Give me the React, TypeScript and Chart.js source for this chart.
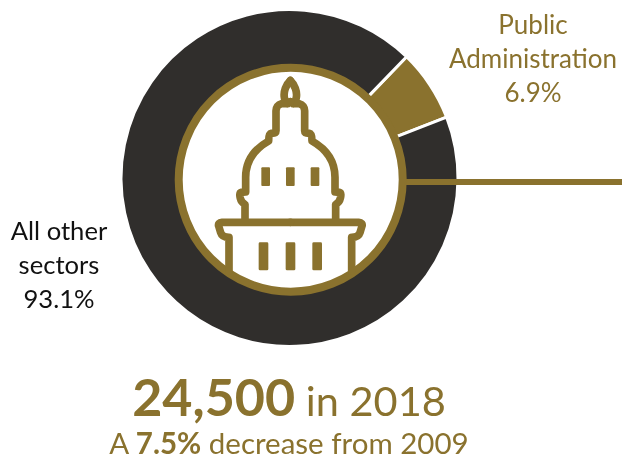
import React, { useEffect, useRef } from "react";
import { Chart, registerables } from "chart.js";

Chart.register(...registerables);

const categories = ["Public Administration", "All other sectors"];
const shares = [6.9, 93.1];
const sliceColors = ["#8a722e", "#302e2c"];
const GOLD = "#8a722e";
const FONT = "Lato, 'Open Sans', sans-serif";

const labelStyle = (left: number, top: number, width: number, color: string, size: number): React.CSSProperties => ({
  position: "absolute",
  left,
  top,
  width,
  textAlign: "center",
  color,
  fontFamily: FONT,
  fontSize: size,
  lineHeight: "34px",
  whiteSpace: "nowrap",
});

const halfOutline =
  "M391 62 C404 74 412 95 409 112 C408 122 404 128 399 131 L418 131 C428 133 434 142 434 152 L434 212 C434 218 440 220 448 220 C455 221 456 230 456 243 C500 268 525 305 525 352 L525 396 L538 397 C544 398 543 408 541 415 C539 425 533 430 527 433 L527 487 M391 487 L597 487 C604 487 608 492 606 498 L600 518 C597 528 590 532 575 532 L575 632 M391 125 L400 131";

const Capitol = () => (
  <svg width={622} height={456} style={{ position: "absolute", left: 0, top: 0 }}>
    <line x1={405} y1={182} x2={622} y2={182} stroke={GOLD} strokeWidth={6} />
    <circle cx={290.7} cy={179.7} r={112} fill="#fff" stroke={GOLD} strokeWidth={8} />
    <g transform="translate(160 60) scale(0.33333)" fill={GOLD}>
      <g fill="none" stroke={GOLD} strokeWidth={23} strokeLinejoin="round" strokeLinecap="round">
        <path d={halfOutline} />
        <path d={halfOutline} transform="translate(782 0) scale(-1 1)" />
      </g>
      {[304, 378, 452].map((x) => (
        <rect key={x} x={x} y={322} width={26} height={56} rx={3} />
      ))}
      {[296, 377, 457].map((x) => (
        <rect key={x} x={x} y={547} width={29} height={84} rx={4} />
      ))}
    </g>
  </svg>
);

export default function App() {
  const ref = useRef<HTMLCanvasElement>(null);
  useEffect(() => {
    document.body.style.margin = "0";
    const chart = new Chart(ref.current!, {
      type: "doughnut",
      data: {
        labels: categories,
        datasets: [
          {
            data: shares,
            backgroundColor: sliceColors,
            borderColor: "#ffffff",
            borderWidth: 3,
            hoverOffset: 0,
          },
        ],
      },
      options: {
        responsive: false,
        animation: false,
        rotation: 44,
        cutout: 110,
        layout: { padding: { left: 119, right: 162, top: 8, bottom: 108 } },
        plugins: { legend: { display: false }, tooltip: { enabled: false } },
      },
    });
    return () => chart.destroy();
  }, []);

  return (
    <div style={{ position: "absolute", left: 0, top: 0, width: 622, height: 456, background: "#fff", overflow: "hidden" }}>
      <canvas ref={ref} width={622} height={456} style={{ position: "absolute", left: 0, top: 0 }} />
      <Capitol />
      <div style={labelStyle(443, 7, 180, GOLD, 26)}>
        Public
        <br />
        Administration
        <br />
        {shares[0]}%
      </div>
      <div style={labelStyle(0, 213, 118, "#111", 25.6)}>
        All other
        <br />
        sectors
        <br />
        {shares[1]}%
      </div>
      <div style={{ ...labelStyle(89, 366, 400, GOLD, 41.5), lineHeight: "60px" }}>
        <span style={{ fontWeight: 700, fontSize: 52 }}>24,500</span> in 2018
      </div>
      <div style={{ ...labelStyle(89, 426, 400, GOLD, 29.5) }}>
        A <b>7.5%</b> decrease from 2009
      </div>
    </div>
  );
}
